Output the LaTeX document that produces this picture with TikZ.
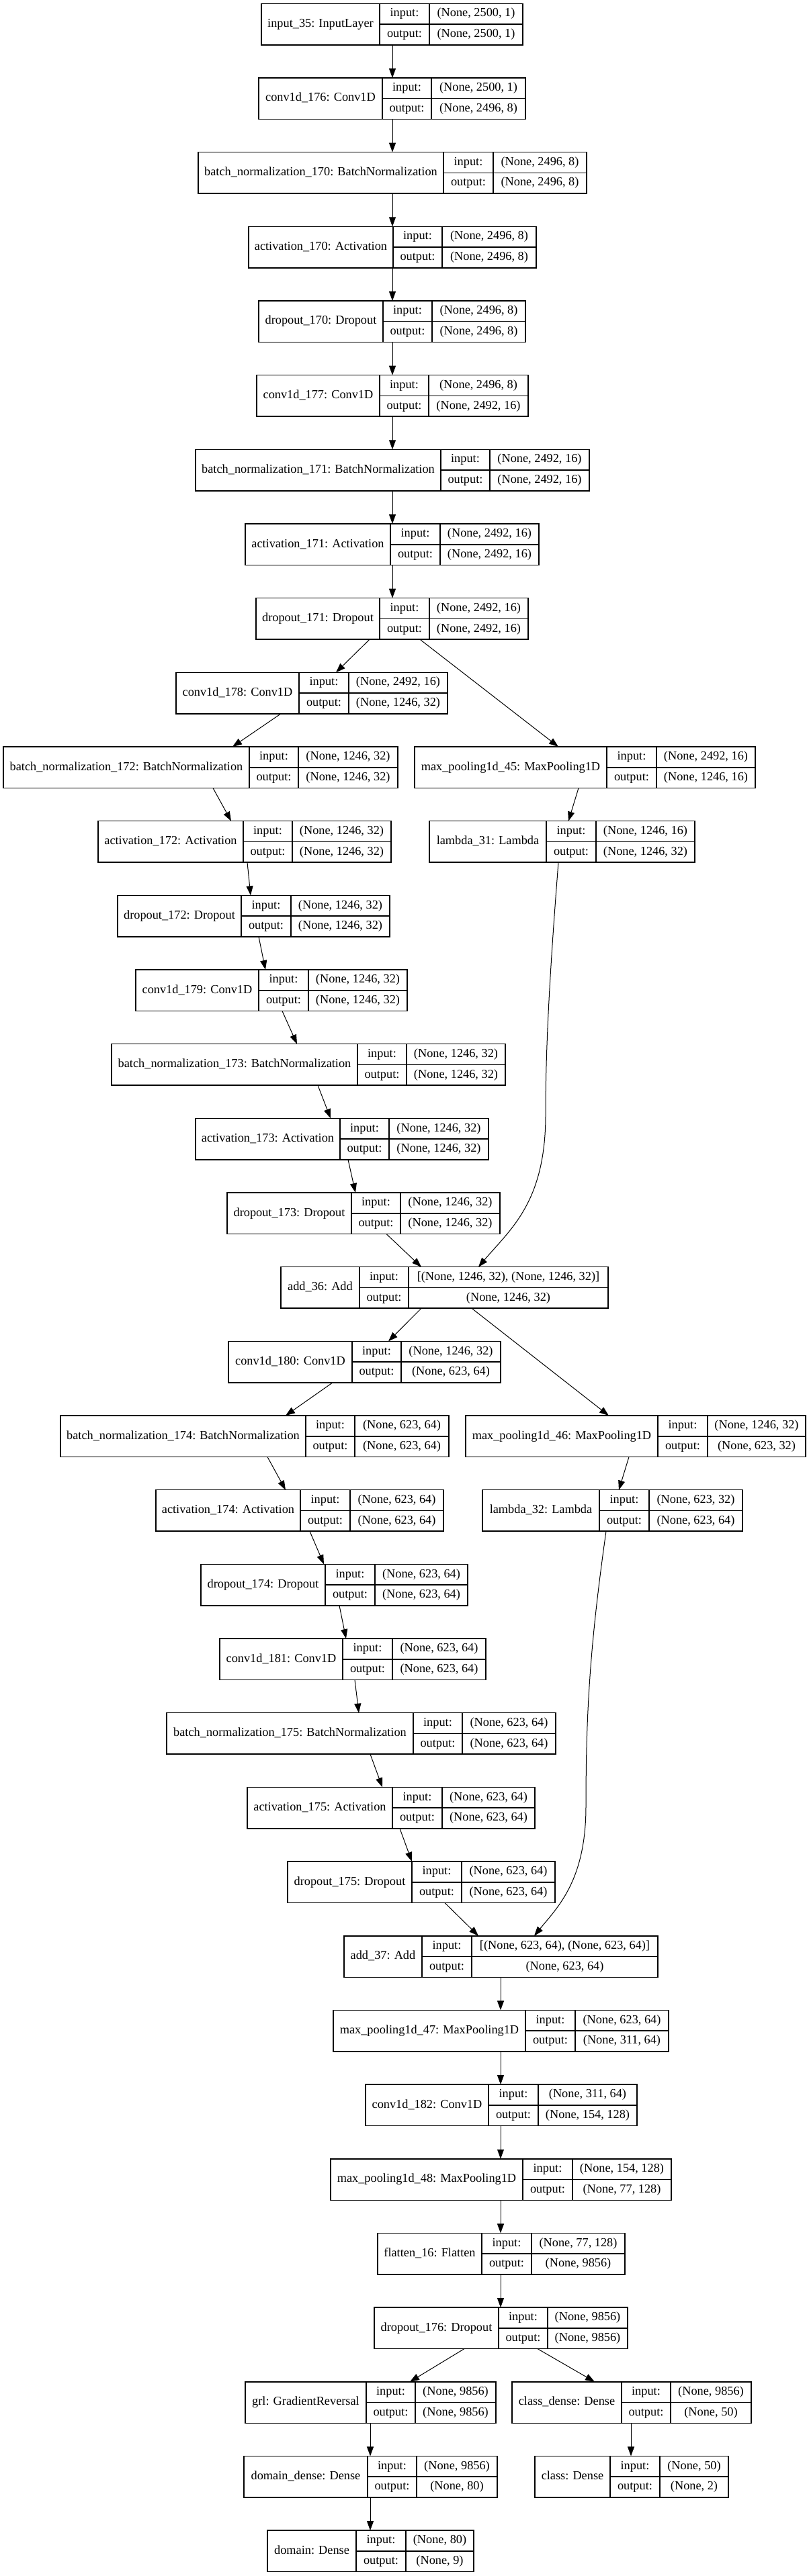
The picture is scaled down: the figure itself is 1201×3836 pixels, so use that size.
\documentclass[tikz,border=0pt]{standalone}
\usepackage{fontspec}
\setmainfont{Liberation Serif}
\usetikzlibrary{arrows.meta}
\tikzset{
  box/.style={draw, line width=1.5pt, inner sep=0pt, outer sep=0pt},
  cell/.style={line width=1.5pt},
  txt/.style={inner sep=0pt, font=\fontsize{18.3}{20}\selectfont, text height=12.5pt, text depth=4pt},
  edge/.style={line width=1pt, -{Triangle[length=14pt,width=10pt]}},
}
\newcommand{\layer}[9]{%
  \pgfmathsetmacro{\lyT}{5.3+110.67*#2}%
  \pgfmathsetmacro{\lyB}{\lyT+61.5}%
  \pgfmathsetmacro{\lyM}{\lyT+30.75}%
  \pgfmathsetmacro{\lyW}{#6-#3}%
  \node[box, minimum width=\lyW pt, minimum height=61.5pt, anchor=north west] (#1) at (#3,\lyT) {};
  \draw[cell] (#4,\lyT) -- (#4,\lyB) (#5,\lyT) -- (#5,\lyB) (#4,\lyM) -- (#6,\lyM);
  \node[txt] (#1-l) at ({(#3+#4)/2},\lyM) {#7};
  \node[txt] (#1-a) at ({(#4+#5)/2},{\lyT+15.4}) {input:};
  \node[txt] (#1-b) at ({(#4+#5)/2},{\lyB-15.4}) {output:};
  \node[txt] (#1-c) at ({(#5+#6)/2},{\lyT+15.4}) {#8};
  \node[txt] (#1-d) at ({(#5+#6)/2},{\lyB-15.4}) {#9};
}
\newcommand{\conn}[4]{\draw[edge] (#2,0 |- #1.south) -- (#4,0 |- #3.north);}
\begin{document}
\begin{tikzpicture}[x=1pt,y=-1pt]
\path[fill=white, use as bounding box] (0,0) rectangle (1201,3836);
\layer{input}{0}{389}{565}{639}{778}{input\_35: InputLayer}{(None, 2500, 1)}{(None, 2500, 1)}
\layer{convA}{1}{385}{569}{642}{782}{conv1d\_176: Conv1D}{(None, 2500, 1)}{(None, 2496, 8)}
\layer{bnA}{2}{295}{660}{734}{873}{batch\_normalization\_170: BatchNormalization}{(None, 2496, 8)}{(None, 2496, 8)}
\layer{actA}{3}{370}{585}{658}{798}{activation\_170: Activation}{(None, 2496, 8)}{(None, 2496, 8)}
\layer{dropA}{4}{385}{570}{643}{782}{dropout\_170: Dropout}{(None, 2496, 8)}{(None, 2496, 8)}
\layer{convB}{5}{382}{565}{638}{786}{conv1d\_177: Conv1D}{(None, 2496, 8)}{(None, 2492, 16)}
\layer{bnB}{6}{291}{656}{729}{877}{batch\_normalization\_171: BatchNormalization}{(None, 2492, 16)}{(None, 2492, 16)}
\layer{actB}{7}{365}{581}{655}{802}{activation\_171: Activation}{(None, 2492, 16)}{(None, 2492, 16)}
\layer{dropB}{8}{381}{565}{639}{786}{dropout\_171: Dropout}{(None, 2492, 16)}{(None, 2492, 16)}
\layer{convC}{9}{262}{445}{519}{666}{conv1d\_178: Conv1D}{(None, 2492, 16)}{(None, 1246, 32)}
\layer{bnC}{10}{5}{371}{444}{592}{batch\_normalization\_172: BatchNormalization}{(None, 1246, 32)}{(None, 1246, 32)}
\layer{mpA}{10}{617}{903}{977}{1124}{max\_pooling1d\_45: MaxPooling1D}{(None, 2492, 16)}{(None, 1246, 16)}
\layer{actC}{11}{146}{362}{435}{582}{activation\_172: Activation}{(None, 1246, 32)}{(None, 1246, 32)}
\layer{lamA}{11}{639}{813}{887}{1034}{lambda\_31: Lambda}{(None, 1246, 16)}{(None, 1246, 32)}
\layer{dropC}{12}{175}{359}{433}{580}{dropout\_172: Dropout}{(None, 1246, 32)}{(None, 1246, 32)}
\layer{convD}{13}{202}{385}{459}{606}{conv1d\_179: Conv1D}{(None, 1246, 32)}{(None, 1246, 32)}
\layer{bnD}{14}{166}{532}{605}{752}{batch\_normalization\_173: BatchNormalization}{(None, 1246, 32)}{(None, 1246, 32)}
\layer{actD}{15}{291}{506}{579}{727}{activation\_173: Activation}{(None, 1246, 32)}{(None, 1246, 32)}
\layer{dropD}{16}{338}{523}{596}{744}{dropout\_173: Dropout}{(None, 1246, 32)}{(None, 1246, 32)}
\layer{addA}{17}{418}{535}{608}{905}{add\_36: Add}{[(None, 1246, 32), (None, 1246, 32)]}{(None, 1246, 32)}
\layer{convE}{18}{340}{524}{597}{745}{conv1d\_180: Conv1D}{(None, 1246, 32)}{(None, 623, 64)}
\layer{bnE}{19}{90}{455}{528}{668}{batch\_normalization\_174: BatchNormalization}{(None, 623, 64)}{(None, 623, 64)}
\layer{mpB}{19}{693}{979}{1053}{1199}{max\_pooling1d\_46: MaxPooling1D}{(None, 1246, 32)}{(None, 623, 32)}
\layer{actE}{20}{232}{447}{521}{660}{activation\_174: Activation}{(None, 623, 64)}{(None, 623, 64)}
\layer{lamB}{20}{718}{892}{966}{1105}{lambda\_32: Lambda}{(None, 623, 32)}{(None, 623, 64)}
\layer{dropE}{21}{299}{484}{558}{696}{dropout\_174: Dropout}{(None, 623, 64)}{(None, 623, 64)}
\layer{convF}{22}{327}{510}{584}{723}{conv1d\_181: Conv1D}{(None, 623, 64)}{(None, 623, 64)}
\layer{bnF}{23}{248}{615}{688}{827}{batch\_normalization\_175: BatchNormalization}{(None, 623, 64)}{(None, 623, 64)}
\layer{actF}{24}{368}{584}{658}{796}{activation\_175: Activation}{(None, 623, 64)}{(None, 623, 64)}
\layer{dropF}{25}{428}{613}{687}{826}{dropout\_175: Dropout}{(None, 623, 64)}{(None, 623, 64)}
\layer{addB}{26}{512}{628}{702}{979}{add\_37: Add}{[(None, 623, 64), (None, 623, 64)]}{(None, 623, 64)}
\layer{mpC}{27}{496}{782}{856}{995}{max\_pooling1d\_47: MaxPooling1D}{(None, 623, 64)}{(None, 311, 64)}
\layer{convG}{28}{544}{727}{801}{948}{conv1d\_182: Conv1D}{(None, 311, 64)}{(None, 154, 128)}
\layer{mpD}{29}{492}{778}{852}{999}{max\_pooling1d\_48: MaxPooling1D}{(None, 154, 128)}{(None, 77, 128)}
\layer{flat}{30}{562}{717}{791}{930}{flatten\_16: Flatten}{(None, 77, 128)}{(None, 9856)}
\layer{dropG}{31}{557}{742}{815}{934}{dropout\_176: Dropout}{(None, 9856)}{(None, 9856)}
\layer{grl}{32}{365}{545}{618}{738}{grl: GradientReversal}{(None, 9856)}{(None, 9856)}
\layer{cden}{32}{762}{925}{998}{1118}{class\_dense: Dense}{(None, 9856)}{(None, 50)}
\layer{dden}{33}{363}{547}{620}{740}{domain\_dense: Dense}{(None, 9856)}{(None, 80)}
\layer{cls}{33}{796}{908}{982}{1084}{class: Dense}{(None, 50)}{(None, 2)}
\layer{dom}{34}{398}{530}{604}{705}{domain: Dense}{(None, 80)}{(None, 9)}
\conn{input}{584}{convA}{584}
\conn{convA}{584}{bnA}{584}
\conn{bnA}{584}{actA}{584}
\conn{actA}{584}{dropA}{584}
\conn{dropA}{584}{convB}{584}
\conn{convB}{584}{bnB}{584}
\conn{bnB}{584}{actB}{584}
\conn{actB}{584}{dropB}{584}
\conn{dropB}{550}{convC}{500}
\conn{dropB}{625}{mpA}{831}
\conn{convC}{418}{bnC}{346}
\conn{bnC}{317}{actC}{344}
\conn{mpA}{861}{lamA}{846}
\conn{actC}{368}{dropC}{373}
\conn{dropC}{385}{convD}{395}
\conn{convD}{420}{bnD}{442}
\conn{bnD}{473}{actD}{492}
\conn{actD}{518}{dropD}{529}
\conn{dropD}{575}{addA}{627}
\draw[edge] (831,0 |- lamA.south) .. controls (818,1450) and (812,1560) .. (812,1660) .. controls (812,1790) and (760,1830) .. (712,0 |- addA.north);
\conn{addA}{627}{convE}{578}
\conn{addA}{702}{mpB}{906}
\conn{convE}{495}{bnE}{425}
\conn{bnE}{398}{actE}{425}
\conn{mpB}{936}{lamB}{921}
\conn{actE}{461}{dropE}{482}
\conn{dropE}{505}{convF}{515}
\draw[edge] (902,0 |- lamB.south) .. controls (878,2450) and (872,2550) .. (872,2690) .. controls (872,2800) and (830,2840) .. (795,0 |- addB.north);
\conn{convF}{528}{bnF}{534}
\conn{bnF}{551}{actF}{569}
\conn{actF}{595}{dropF}{613}
\conn{dropF}{662}{addB}{712}
\conn{addB}{745}{mpC}{745}
\conn{mpC}{745}{convG}{745}
\conn{convG}{745}{mpD}{745}
\conn{mpD}{745}{flat}{745}
\conn{flat}{745}{dropG}{745}
\conn{dropG}{691}{grl}{610}
\conn{dropG}{800}{cden}{885}
\conn{grl}{551}{dden}{551}
\conn{cden}{939}{cls}{939}
\conn{dden}{551}{dom}{551}
\end{tikzpicture}
\end{document}
